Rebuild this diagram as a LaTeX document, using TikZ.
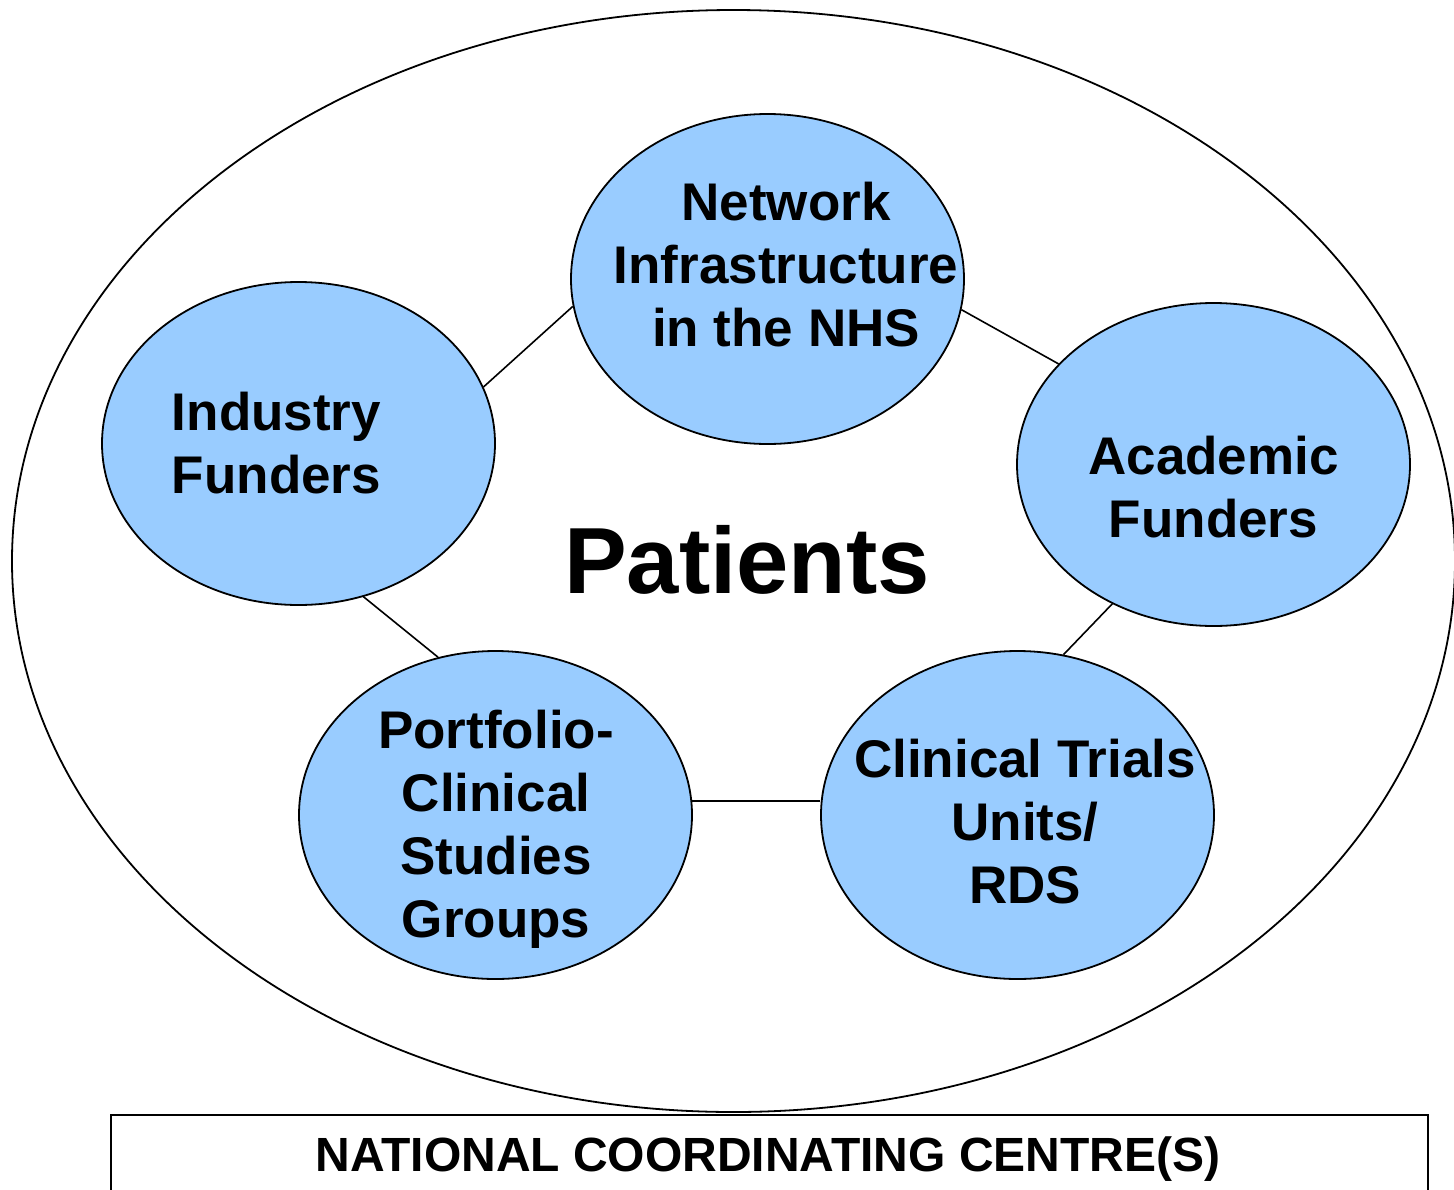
\documentclass[tikz,border=0pt]{standalone}
\usepackage{fontspec}
\setmainfont{Liberation Sans}
\usetikzlibrary{shapes.geometric}
\definecolor{bubble}{HTML}{99CCFF}
\begin{document}
\begin{tikzpicture}[x=1pt,y=-1pt,
  bubble/.style={ellipse,draw=black,line width=1.8pt,fill=bubble,inner sep=0pt,
    minimum width=393pt,minimum height=#1},
  label txt/.style={anchor=base,align=center,inner sep=0pt,
    font=\fontsize{53}{63}\selectfont\bfseries},
  link/.style={line width=1.6pt}]
  \useasboundingbox (0,0) rectangle (1454,1189);

  % outer field and the coordinating centre below it
  \node[ellipse,draw=black,line width=1.8pt,inner sep=0pt,
        minimum width=1443pt,minimum height=1102pt] (field) at (733.5,561) {};
  \node[draw=black,line width=1.8pt,inner sep=0pt,minimum width=1317pt,
        minimum height=120pt,anchor=north west] (ncc) at (110,1114) {};
  \node[anchor=base,inner sep=0pt,font=\fontsize{48}{58}\selectfont\bfseries]
        (ncctxt) at (768,1171) {NATIONAL COORDINATING CENTRE(S)};

  % partner bubbles
  \node[bubble=330pt] (net) at (767.5,279) {};
  \node[bubble=323pt] (ind) at (298.5,443.5) {};
  \node[bubble=323pt] (aca) at (1213.5,464.5) {};
  \node[bubble=328pt] (port) at (495.5,815) {};
  \node[bubble=328pt] (ctu) at (1017.5,815) {};

  % bubble labels (anchored on the baseline of their last line)
  \node[label txt] (nettxt) at (786,346) {Network\\Infrastructure\\in the NHS};
  \node[label txt] (indtxt) at (276.5,493) {Industry\\Funders};
  \node[label txt] (acatxt) at (1213.5,537) {Academic\\Funders};
  \node[label txt] (porttxt) at (496,937) {Portfolio-\\Clinical\\Studies\\Groups};
  \node[label txt] (ctutxt) at (1025,903) {Clinical Trials\\Units/\\RDS};

  % centre
  \node[anchor=base,inner sep=0pt,font=\fontsize{94}{110}\selectfont\bfseries]
        (pat) at (747,593) {Patients};

  % ring of links
  \draw[link] (ind.17) -- (net.188.3);
  \draw[link] (net.351.9) -- (aca.147.6);
  \draw[link] (ind.293.4) -- (port.110.1);
  \draw[link] (aca.234.2) -- (ctu.74.7);
  \draw[link] (port.4.9) -- (port.4.9 -| ctu.west);
\end{tikzpicture}
\end{document}
